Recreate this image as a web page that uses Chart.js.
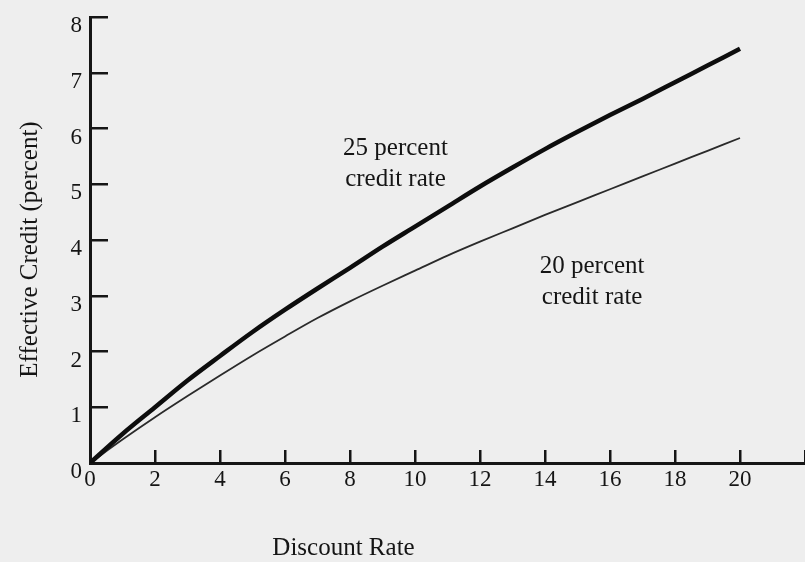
<!DOCTYPE html>
<html>
<head>
<meta charset="utf-8">
<script src="https://cdn.jsdelivr.net/npm/chart.js@4.4.1/dist/chart.umd.min.js"></script>
<style>
  html, body { margin:0; padding:0; background:#eeeeee; }
  #wrap { width:805px; height:562px; }
</style>
</head>
<body>
<div id="wrap"><canvas id="chart" width="805" height="562"></canvas></div>
<script>
// Données (taux d'actualisation en %, crédit effectif en %)
const discountRate = [0,1,2,3,4,5,6,7,8,9,10,11,12,13,14,15,16,17,18,19,20];
const credit25 = [0,0.52,1.0,1.48,1.92,2.35,2.75,3.13,3.5,3.88,4.24,4.6,4.96,5.3,5.63,5.94,6.24,6.53,6.83,7.13,7.43];
const credit20 = [0,0.42,0.82,1.2,1.57,1.93,2.27,2.6,2.9,3.18,3.45,3.72,3.97,4.21,4.45,4.68,4.91,5.14,5.37,5.6,5.83];
const xTicks = [0,2,4,6,8,10,12,14,16,18,20,22];
const yTicks = [0,1,2,3,4,5,6,7,8];
const curveNotes = [
  { lines: ["25 percent", "credit rate"], x: 9.4, y: 5.65 },
  { lines: ["20 percent", "credit rate"], x: 15.45, y: 3.52 }
];

const SERIF = "'Liberation Serif', 'DejaVu Serif', serif";
const INK = "#151515";

const toPoints = (ys) => discountRate.map((x, i) => ({ x, y: ys[i] }));

// Textes : notes sur les courbes + titres des axes
const notesPlugin = {
  id: "notes",
  afterDraw(chart){
    const { ctx, scales:{ x, y } } = chart;
    ctx.save();
    ctx.fillStyle = INK;
    ctx.font = "25px " + SERIF;
    ctx.textAlign = "center";
    ctx.textBaseline = "middle";
    curveNotes.forEach(n=>{
      const px = x.getPixelForValue(n.x);
      const py = y.getPixelForValue(n.y);
      n.lines.forEach((t, i)=> ctx.fillText(t, px, py + i*31));
    });
    ctx.fillText("Discount Rate", x.getPixelForValue(7.8), 548);
    // titre vertical
    ctx.translate(30, y.getPixelForValue(3.83));
    ctx.rotate(-Math.PI/2);
    ctx.fillText("Effective Credit (percent)", 0, 0);
    ctx.restore();
  }
};

new Chart(document.getElementById("chart").getContext("2d"), {
  type: "line",
  data: {
    datasets: [
      { label: "25 percent credit rate", data: toPoints(credit25), borderColor: "#0d0d0d", borderWidth: 4.5,
        pointRadius: 0, fill: false, cubicInterpolationMode: "monotone" },
      { label: "20 percent credit rate", data: toPoints(credit20), borderColor: "#2a2a2a", borderWidth: 1.8,
        pointRadius: 0, fill: false, cubicInterpolationMode: "monotone" }
    ]
  },
  options: {
    responsive: false,
    animation: false,
    devicePixelRatio: 1,
    layout: { padding: { top: 17, right: 0, left: 4, bottom: 0 } },
    plugins: { legend: { display: false }, tooltip: { enabled: false } },
    scales: {
      x: {
        type: "linear", min: 0, max: 22,
        afterBuildTicks: (s)=>{ s.ticks = xTicks.map(v=>({ value: v })); },
        afterFit: (s)=>{ s.height = 562 - 463; s.paddingLeft = 0; s.paddingRight = 0; },
        border: { display: true, color: INK, width: 3 },
        grid: { drawOnChartArea: false, drawTicks: true, tickLength: -13, color: INK, lineWidth: 2.5 },
        ticks: { padding: 16, color: INK, font: { family: SERIF, size: 23 },
          callback: (v)=> v === 22 ? "" : String(v) }
      },
      y: {
        min: 0, max: 8,
        afterBuildTicks: (s)=>{ s.ticks = yTicks.map(v=>({ value: v })); },
        afterFit: (s)=>{ s.width = 90 - 4; s.paddingTop = 0; s.paddingBottom = 0; },
        border: { display: true, color: INK, width: 3 },
        grid: { drawOnChartArea: false, drawTicks: true, tickLength: -18, color: INK, lineWidth: 2.5 },
        ticks: { padding: 26, labelOffset: 9, color: INK, font: { family: SERIF, size: 23 } }
      }
    }
  },
  plugins: [notesPlugin]
});
</script>
</body>
</html>
